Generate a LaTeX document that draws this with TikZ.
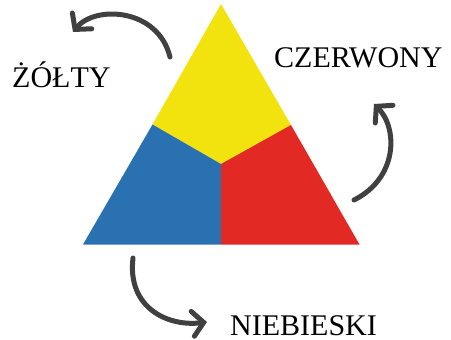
\documentclass[tikz,border=0pt]{standalone}
\usepackage{fontspec}
\setmainfont{Liberation Serif}
\usetikzlibrary{arrows.meta}
\definecolor{yel}{HTML}{F2E30E}
\definecolor{blu}{HTML}{2A71B1}
\definecolor{rd}{HTML}{E22923}
\definecolor{arr}{HTML}{404040}
\begin{document}
\begin{tikzpicture}[x=1pt,y=-1pt,
  lbl/.style={font=\fontsize{30}{35}\selectfont, anchor=base west, inner sep=0pt, text=black},
  cyc/.style={draw=arr, line width=5pt, line cap=round, -{Straight Barb[length=11pt,width=25pt,line cap=round]}}]
\useasboundingbox (0,0) rectangle (451,340);
% triangle points
\coordinate (A) at (221,4);
\coordinate (L) at (152.5,124.5);
\coordinate (R) at (291,125);
\coordinate (C) at (221,164);
\coordinate (BL) at (83,244.5);
\coordinate (BR) at (359.5,244.5);
\coordinate (BM) at (221,244.5);
\fill[yel] (A) -- (L) -- (C) -- (R) -- cycle;
\fill[blu] (L) -- (C) -- (BM) -- (BL) -- cycle;
\fill[rd] (R) -- (C) -- (BM) -- (BR) -- cycle;
% labels
\node[lbl] (y) at (12,88) {ŻÓŁTY};
\node[lbl] (r) at (274,67) {CZERWONY};
\node[lbl] (b) at (230,335) {NIEBIESKI};
% arrows
\coordinate (a1s) at (170,57);
\coordinate (a1e) at (73,32);
\coordinate (a2s) at (354,200);
\coordinate (a2e) at (374,104);
\coordinate (a3s) at (133,258);
\coordinate (a3e) at (207,322);
\draw[cyc] (a1s) .. controls (158,8) and (95,5) .. (a1e);
\draw[cyc] (a2s) .. controls (398,178) and (398,128) .. (a2e);
\draw[cyc] (a3s) .. controls (127,308) and (168,327) .. (a3e);
\end{tikzpicture}
\end{document}
